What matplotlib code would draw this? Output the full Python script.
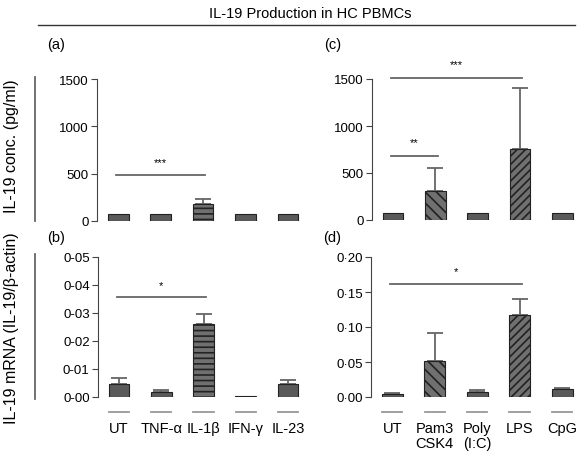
import matplotlib
matplotlib.use("Agg")
import matplotlib.pyplot as plt
from matplotlib.lines import Line2D

plt.rcParams['font.family'] = ['Liberation Sans', 'DejaVu Sans']
plt.rcParams['hatch.linewidth'] = 1.2

# data
cyto_labels = ["UT", "TNF-\u03b1", "IL-1\u03b2", "IFN-\u03b3", "IL-23"]
tlr_labels = ["UT", "Pam3\nCSK4", "Poly\n(I:C)", "LPS", "CpG"]

cyto_conc = [70, 70, 180, 70, 70]
cyto_conc_err = [0, 0, 50, 0, 0]
tlr_conc = [70, 305, 70, 760, 70]
tlr_conc_err = [0, 245, 0, 640, 0]

cyto_mrna = [0.0048, 0.0018, 0.0260, 0.0004, 0.0048]
cyto_mrna_err = [0.0021, 0.0008, 0.0038, 0.0, 0.0014]
tlr_mrna = [0.0038, 0.052, 0.0076, 0.1176, 0.011]
tlr_mrna_err = [0.0022, 0.039, 0.0019, 0.0224, 0.0012]

cyto_hatch = [None, None, "---", None, None]
tlr_hatch = [None, "\\\\\\", None, "////", None]

GRAY = "#666666"

fig = plt.figure(figsize=(5.77, 4.56), dpi=100)
W, H = 577.0, 456.0


def make_ax(x0, x1, ytop, ybot):
    return fig.add_axes([x0 / W, 1 - ybot / H, (x1 - x0) / W, (ybot - ytop) / H])


def draw_panel(ax, vals, errs, hatches, ymax, yticks, yticklabels, xlim, labels=None):
    x = range(len(vals))
    for i, (v, e, h) in enumerate(zip(vals, errs, hatches)):
        ax.bar(i, v, width=0.49, color="#5a5a5a" if h is None else "#707070",
               edgecolor="#222222", linewidth=0.8, hatch=h, zorder=2)
        if e > 0:
            ax.errorbar(i, v, yerr=[[0], [e]], fmt="none", ecolor=GRAY,
                        elinewidth=1.3, capsize=6, capthick=1.3, zorder=1)
    ax.set_xlim(*xlim)
    ax.set_ylim(0, ymax)
    ax.set_yticks(yticks)
    ax.set_yticklabels(yticklabels, fontsize=9.5)
    for s in ["top", "right", "bottom"]:
        ax.spines[s].set_visible(False)
    ax.spines["left"].set_color("#444444")
    ax.tick_params(axis="y", direction="out", length=4, color="#444444", pad=2)
    if labels is None:
        ax.set_xticks([])
    else:
        ax.set_xticks(list(x))
        ax.set_xticklabels(labels, fontsize=10.5, va="top", linespacing=1.1)
        ax.tick_params(axis="x", length=0, pad=17)
        tr = ax.get_xaxis_transform()
        for i in x:
            ax.plot([i - 0.24, i + 0.24], [-0.105, -0.105], color="#999999",
                    lw=1.3, transform=tr, clip_on=False)


def sig(ax, x0, x1, y, ystar, text):
    ax.plot([x0 - 0.05, x1 + 0.05], [y, y], color=GRAY, lw=1.3, clip_on=False)
    ax.text((x0 + x1) / 2, ystar, text, ha="center", va="center",
            fontsize=8, clip_on=False)


ax_a = make_ax(97, 307, 80, 222)
ax_c = make_ax(372, 577, 80, 221)
ax_b = make_ax(98, 307, 258, 398)
ax_d = make_ax(371, 577, 258, 398)

draw_panel(ax_a, cyto_conc, cyto_conc_err, cyto_hatch, 1500,
           [0, 500, 1000, 1500], ["0", "500", "1000", "1500"], (-0.5, 4.45))
draw_panel(ax_c, tlr_conc, tlr_conc_err, tlr_hatch, 1500,
           [0, 500, 1000, 1500], ["0", "500", "1000", "1500"], (-0.5, 4.35))
draw_panel(ax_b, cyto_mrna, cyto_mrna_err, cyto_hatch, 0.05,
           [0, 0.01, 0.02, 0.03, 0.04, 0.05],
           ["0-00", "0-01", "0-02", "0-03", "0-04", "0-05"], (-0.5, 4.45), cyto_labels)
draw_panel(ax_d, tlr_mrna, tlr_mrna_err, tlr_hatch, 0.20,
           [0, 0.05, 0.10, 0.15, 0.20],
           ["0\u00b700", "0\u00b705", "0\u00b710", "0\u00b715", "0\u00b720"], (-0.5, 4.35), tlr_labels)

sig(ax_a, 0, 2, 490, 620, "***")
sig(ax_c, 0, 1, 685, 830, "**")
sig(ax_c, 0, 3, 1510, 1660, "***")
sig(ax_b, 0, 2, 0.0357, 0.0400, "*")
sig(ax_d, 0, 3, 0.161, 0.180, "*")

# panel letters
fig.text(47 / W, 1 - 45 / H, "(a)", fontsize=10.5, va="center")
fig.text(324 / W, 1 - 45 / H, "(c)", fontsize=10.5, va="center")
fig.text(47 / W, 1 - 238 / H, "(b)", fontsize=10.5, va="center")
fig.text(323 / W, 1 - 238 / H, "(d)", fontsize=10.5, va="center")

# title and rule
fig.text(310 / W, 1 - 14 / H, "IL-19 Production in HC PBMCs", fontsize=10.5,
         ha="center", va="center")
fig.add_artist(Line2D([38 / W, 575 / W], [1 - 26 / H, 1 - 26 / H],
                      color="#333333", lw=1.0))

# row labels with vertical rules
fig.text(12 / W, 1 - 146 / H, "IL-19 conc. (pg/ml)", fontsize=11.5,
         rotation=90, ha="center", va="center")
fig.add_artist(Line2D([35 / W, 35 / W], [1 - 78 / H, 1 - 222 / H],
                      color=GRAY, lw=1.3))
fig.text(12 / W, 1 - 328 / H, "IL-19 mRNA (IL-19/\u03b2-actin)", fontsize=11.5,
         rotation=90, ha="center", va="center")
fig.add_artist(Line2D([35 / W, 35 / W], [1 - 255 / H, 1 - 400 / H],
                      color=GRAY, lw=1.3))

fig.savefig("out.png", dpi=100)
